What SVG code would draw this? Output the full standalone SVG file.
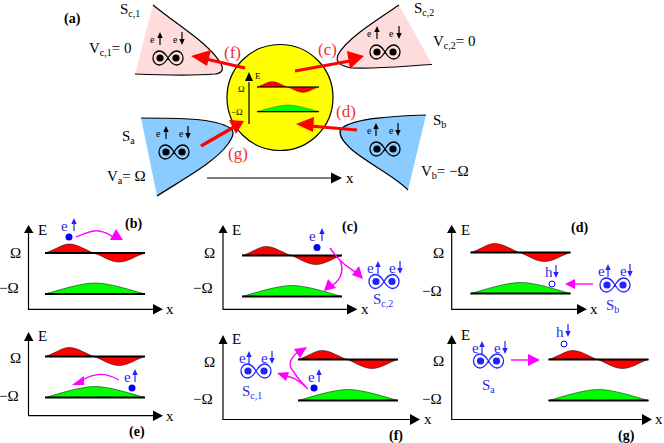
<svg xmlns="http://www.w3.org/2000/svg" width="664" height="443" viewBox="0 0 664 443">
<style>
text{font-family:"Liberation Serif","Times New Roman",serif;fill:#000}
.t{font-size:15px}
.sub{font-size:10px}
.b{font-size:14px;font-weight:bold}
.blue text{fill:#2a2af0}
.red{fill:#f03030;font-size:17px}
.ax{fill:none;stroke:#000;stroke-width:1.2}
.edge{fill:none;stroke:#000;stroke-width:1.2}
.rl{stroke:#f00;stroke-width:3.2;fill:none}
.mg{stroke:#f0f;stroke-width:1.4;fill:none}
.xl{font-size:15px}
</style>
<defs>
<g id="bands">
<path d="M0,0C10,-3 17,-9 24,-9C33,-9 40,-3 49,0C58,3 65,9 74,9C83,9 90,3 100,0z" fill="#f00" stroke="#000" stroke-width=".5"/>
<path d="M0,41C15,37 35,30 50,30C65,30 85,37 100,41z" fill="#0f0" stroke="#000" stroke-width=".5"/>
<path d="M0,0H100M0,41H100" stroke="#000" stroke-width="1.8"/>
</g>
<g id="pair">
<path d="M0,0C-3,-5 -6,-7 -8.500,-7C-12.500,-7 -15,-3.500 -15,0C-15,3.500 -12.500,7 -8.500,7C-6,7 -3,5 0,0C3,-5 6,-7 8.500,-7C12.500,-7 15,-3.500 15,0C15,3.500 12.500,7 8.500,7C6,7 3,5 0,0z" fill="none" stroke="currentColor" stroke-width="1.300"/>
<circle cx="-8" cy="0" r="3.600" fill="currentColor"/><circle cx="8" cy="0" r="3.600" fill="currentColor"/>
</g>
<g id="up"><path d="M0,0V-8" stroke="currentColor" stroke-width="1.200"/><path d="M-2.700,-7L0,-13L2.700,-7z" fill="currentColor"/></g>
<g id="down"><path d="M0,-13V-5" stroke="currentColor" stroke-width="1.200"/><path d="M-2.700,-6L0,0L2.700,-6z" fill="currentColor"/></g>
</defs>

<g id="sc1">
<path d="M153,5C180,27 210,44 221,64C224,70 222,73 215,74C190,76 160,75 135,74z" fill="#ffdcdc"/>
<path class="edge" d="M153,5C180,27 210,44 221,64C224,70 222,73 215,74C190,76 160,75 135,74"/>
<text class="t" x="120" y="14">S<tspan class="sub" dy="3">c,1</tspan></text>
<text class="t" x="89" y="53">V<tspan class="sub" dy="3">c,1</tspan><tspan dy="-3">= 0</tspan></text>
<text x="150" y="43" font-size="10">e</text><use href="#up" x="160" y="45"/><text x="173" y="43" font-size="10">e</text><use href="#down" x="182" y="45"/>
<use href="#pair" x="168" y="58" color="#000"/>
</g>
<g id="sc2">
<path d="M399,5C375,21 345,40 338,55C335,62 340,66 352,68C380,69 405,66 432,64.500z" fill="#ffdcdc"/>
<path class="edge" d="M399,5C375,21 345,40 338,55C335,62 340,66 352,68C380,69 405,66 432,64.500"/>
<text class="t" x="414" y="13">S<tspan class="sub" dy="3">c,2</tspan></text>
<text class="t" x="433" y="46">V<tspan class="sub" dy="3">c,2</tspan><tspan dy="-3">= 0</tspan></text>
<text x="367" y="37" font-size="10">e</text><use href="#up" x="377" y="39"/><text x="389" y="37" font-size="10">e</text><use href="#down" x="399" y="39"/>
<use href="#pair" x="385" y="52" color="#000"/>
</g>
<g id="sa">
<path d="M141,118C175,118 215,118 230,128C236,132 232,138 228,144C215,162 185,178 157,196z" fill="#8accff"/>
<path class="edge" d="M141,118C175,118 215,118 230,128C236,132 232,138 228,144C215,162 185,178 157,196"/>
<text class="t" x="122" y="141">S<tspan class="sub" dy="3">a</tspan></text>
<text class="t" x="107" y="181">V<tspan class="sub" dy="3">a</tspan><tspan dy="-3">= Ω</tspan></text>
<text x="156" y="137" font-size="10">e</text><use href="#up" x="166" y="139"/><text x="179" y="137" font-size="10">e</text><use href="#down" x="188" y="139"/>
<use href="#pair" x="174" y="152" color="#000"/>
</g>
<g id="sb">
<path d="M426,115C395,116 355,118 342,128C337,133 342,140 350,148C365,162 395,176 408,190z" fill="#8accff"/>
<path class="edge" d="M426,115C395,116 355,118 342,128C337,133 342,140 350,148C365,162 395,176 408,190"/>
<text class="t" x="433" y="125">S<tspan class="sub" dy="3">b</tspan></text>
<text class="t" x="421" y="176">V<tspan class="sub" dy="3">b</tspan><tspan dy="-3">= −Ω</tspan></text>
<text x="367" y="134" font-size="10">e</text><use href="#up" x="376" y="136"/><text x="389" y="134" font-size="10">e</text><use href="#down" x="398" y="136"/>
<use href="#pair" x="385" y="149" color="#000"/>
</g>

<g id="dot">
<circle cx="280" cy="97.500" r="53" fill="#ff0" stroke="#000" stroke-width="1.200"/>
<path d="M249,124V82" stroke="#000" stroke-width="1.200"/><path d="M245,81L249,72L253,81z" fill="#000"/>
<text x="255" y="79" font-size="9">E</text><text x="238" y="92" font-size="9">Ω</text><text x="231" y="115" font-size="9">−Ω</text>
<g transform="translate(257,87) scale(.62,.6)"><use href="#bands"/></g>
</g>

<g id="main-connectors">
<path class="rl" d="M245,68L206,59"/><path d="M191,56L211,50L207,66z" fill="#f00"/>
<path class="rl" d="M295,71L350,61"/><path d="M364,56L347,51L350,69z" fill="#f00"/>
<path class="rl" d="M357,130L310,126"/><path d="M296,124L314,117L313,132z" fill="#f00"/>
<path class="rl" d="M201,146L234,127"/><path d="M244,121L229,120L236,134z" fill="#f00"/>
<path d="M207,178H333" stroke="#000" stroke-width="1"/><path d="M331,172.500L342,178L331,183.500z" fill="#000"/>
<text class="red" x="224" y="58">(f)</text><text class="red" x="318" y="55">(c)</text><text class="red" x="336" y="117">(d)</text><text class="red" x="228" y="159">(g)</text>
<text class="b" x="64" y="23">(a)</text>
<text class="xl" x="346" y="183">x</text>
</g>

<g id="panel-b">
<path class="ax" d="M28.500,232V309.300H154"/><path d="M24,233L28.500,225L33.500,233zM153,304L163,309.300L153,314.500z" fill="#000"/>
<text class="t" x="38" y="235">E</text><text class="t" x="10" y="258">Ω</text><text class="t" x="-1" y="293">−Ω</text><text class="xl" x="166" y="314">x</text>
<use href="#bands" x="45" y="253"/>
<text class="b" x="125" y="228">(b)</text>
<g class="blue" color="#22f"><text class="t" x="61" y="231">e</text><use href="#up" x="74" y="231"/><circle cx="69" cy="237" r="3.500" fill="#00f"/></g>
<path class="mg" d="M76,237C86,233 93,230 99,231C105,232 109,234 113,237"/><path d="M123,240L110,240L116,229z" fill="#f0f"/>
</g>
<g id="panel-c">
<path class="ax" d="M223,232V309.300H349"/><path d="M218.500,233L223,225L227.500,233zM347,304L357.500,309.300L347,314.500z" fill="#000"/>
<text class="t" x="232" y="235">E</text><text class="t" x="204" y="258">Ω</text><text class="t" x="193" y="293">−Ω</text><text class="xl" x="361" y="314">x</text>
<use href="#bands" x="242" y="255.500"/>
<text class="b" x="342" y="231">(c)</text>
<g class="blue" color="#22f"><text class="t" x="309" y="241">e</text><use href="#up" x="322" y="241"/><circle cx="317" cy="247.500" r="3.500" fill="#00f"/></g>
<path class="mg" d="M330,248C340,262 345,265 358,274"/><path d="M363,279L352,275L359,266z" fill="#f0f"/>
<path class="mg" d="M340,260C345,272 340,282 328,288"/><path d="M324,291L328,279L336,288z" fill="#f0f"/>
<g class="blue" color="#22f"><text class="t" x="367" y="273">e</text><use href="#up" x="378" y="274"/><text class="t" x="389" y="273">e</text><use href="#down" x="400" y="274"/>
<use href="#pair" x="384" y="281.500"/><text class="t" x="373" y="304">S<tspan class="sub" dy="3">c,2</tspan></text></g>
</g>
<g id="panel-d">
<path class="ax" d="M451.700,232V309.300H578"/><path d="M447,233L451.700,225L456.500,233zM577,304L587,309.300L577,314.500z" fill="#000"/>
<text class="t" x="461" y="235">E</text><text class="xl" x="590" y="314">x</text>
<text class="t" x="433" y="258">Ω</text><text class="t" x="422" y="296">−Ω</text>
<use href="#bands" x="470.500" y="252.500"/>
<text class="b" x="571" y="232">(d)</text>
<g class="blue" color="#22f"><text class="t" x="545" y="277">h</text><use href="#down" x="556" y="278"/><circle cx="552" cy="284" r="3" fill="none" stroke="#00f"/></g>
<path class="mg" d="M593,284H574"/><path d="M565,284L575,279L575,289z" fill="#f0f"/>
<g class="blue" color="#22f"><text class="t" x="598" y="276">e</text><use href="#up" x="608" y="277"/><text class="t" x="620" y="276">e</text><use href="#down" x="630" y="277"/>
<use href="#pair" x="615" y="285"/><text class="t" x="606" y="310">S<tspan class="sub" dy="3">b</tspan></text></g>
</g>
<g id="panel-e">
<path class="ax" d="M28.500,340V415.700H154"/><path d="M24,341L28.500,332L33.500,341zM153,410.500L163,415.700L153,421z" fill="#000"/>
<text class="t" x="38" y="341">E</text><text class="t" x="10" y="363">Ω</text><text class="t" x="-1" y="401">−Ω</text><text class="xl" x="166" y="421">x</text>
<use href="#bands" x="45" y="356.500"/>
<text class="b" x="129" y="436">(e)</text>
<g class="blue" color="#22f"><text class="t" x="124" y="382">e</text><use href="#up" x="135" y="382"/><circle cx="132" cy="388" r="3.500" fill="#00f"/></g>
<path class="mg" d="M119,380C105,372 95,373 82,380"/><path d="M72,385L84,376L84,385z" fill="#f0f"/>
</g>
<g id="panel-f">
<path class="ax" d="M223,343V419.500H411"/><path d="M218.500,344L223,335L227.500,344zM410,414L420,419.500L410,425z" fill="#000"/>
<text class="t" x="232" y="344">E</text><text class="t" x="204" y="367">Ω</text><text class="t" x="193" y="404">−Ω</text><text class="xl" x="424" y="424">x</text>
<use href="#bands" x="298" y="359.500"/>
<text class="b" x="389" y="440">(f)</text>
<g class="blue" color="#22f"><text class="t" x="308" y="382">e</text><use href="#up" x="319" y="382"/><circle cx="314" cy="388" r="3.500" fill="#00f"/>
<text class="t" x="239" y="363">e</text><use href="#up" x="249" y="364"/><text class="t" x="261" y="363">e</text><use href="#down" x="272" y="364"/>
<use href="#pair" x="256" y="371"/><text class="t" x="242" y="396">S<tspan class="sub" dy="3">c,1</tspan></text></g>
<path class="mg" d="M308,389C297,379 293,370 291,368C288,362 293,355 301,350"/><path d="M307,347L294,349L300,358z" fill="#f0f"/>
<path class="mg" d="M305,386C295,378 292,377 285,376"/><path d="M277,373L289,372L286,381z" fill="#f0f"/>
</g>
<g id="panel-g">
<path class="ax" d="M451.700,343V419.500H642"/><path d="M447,344L451.700,335L456.500,344zM642,414L652,419.500L642,425z" fill="#000"/>
<text class="t" x="461" y="340">E</text><text class="xl" x="655" y="424">x</text>
<text class="t" x="433" y="366">Ω</text><text class="t" x="422" y="404">−Ω</text>
<use href="#bands" x="548.500" y="359.500"/>
<text class="b" x="618" y="440">(g)</text>
<g class="blue" color="#22f"><text class="t" x="556" y="337">h</text><use href="#down" x="568" y="337"/><circle cx="564" cy="344" r="3" fill="none" stroke="#00f"/>
<text class="t" x="472" y="353">e</text><use href="#up" x="482" y="354"/><text class="t" x="494" y="353">e</text><use href="#down" x="505" y="354"/>
<use href="#pair" x="488.500" y="361"/><text class="t" x="482" y="390">S<tspan class="sub" dy="3">a</tspan></text></g>
<path class="mg" d="M511,360H530"/><path d="M540,360L528,354L528,366z" fill="#f0f"/>
</g>
</svg>
